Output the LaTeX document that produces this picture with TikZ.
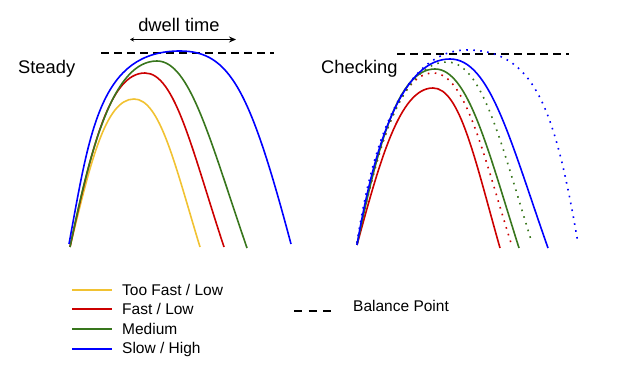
\documentclass[tikz,border=0pt]{standalone}
\usepackage{fontspec}
\setmainfont{Liberation Sans}
\usetikzlibrary{arrows.meta}
\definecolor{tooyellow}{HTML}{F1C232}
\definecolor{fastred}{HTML}{CC0000}
\definecolor{medgreen}{HTML}{38761D}
\definecolor{slowblue}{HTML}{0000FF}
\tikzset{
	curve/.style={line width=1.6pt},
	dotcurve/.style={line width=1.6pt, dash pattern=on 1.6pt off 5.4pt},
	balance/.style={line width=1.6pt, dash pattern=on 8pt off 5pt},
	title/.style={font=\fontsize{18.3}{22}\selectfont, inner sep=0pt},
	legtext/.style={font=\fontsize{15.5}{18}\selectfont, inner sep=0pt, anchor=west},
}

\begin{document}
\begin{tikzpicture}[x=1pt, y=-1pt]
		\useasboundingbox (0,0) rectangle (642,371);

		\node (steady)[title, anchor=west] at (18,69) {Steady};
		\node (checking)[title, anchor=west] at (321,69) {Checking};
		\node (dwell)[title] at (179,25) {dwell time};

		\coordinate (dwl) at (130,39.5);
		\coordinate (dwr) at (236,39.5);
		\draw [line width=0.9pt, {Stealth[length=4pt,width=4pt]}-{Stealth[length=7pt,width=6pt]}](dwl) -- (dwr);

		\coordinate (bal1a) at (101,53);
		\coordinate (bal1b) at (274,53);
		\draw [balance](bal1a) -- (bal1b);
		\coordinate (bal2a) at (397,54);
		\coordinate (bal2b) at (569,54);
		\draw [balance](bal2a) -- (bal2b);

		\draw [curve, tooyellow](70,247) .. controls (90,165) and (105,99) .. (134,99) .. controls (160,99) and (175,165) .. (200,247);
		\draw [curve, fastred](70,247) .. controls (92,145) and (110,73) .. (145,73) .. controls (175,73) and (192,150) .. (224,247);
		\draw [curve, medgreen](70,247) .. controls (92,140) and (115,61) .. (157,61) .. controls (190,61) and (210,140) .. (247,248);
		\draw [curve, slowblue](69,244) .. controls (90,130) and (100,51) .. (180,51) .. controls (230,51) and (250,90) .. (291,244);

		\draw [curve, fastred](357,245) .. controls (380,160) and (400,88) .. (433,88) .. controls (460,88) and (475,160) .. (500,248);
		\draw [dotcurve, fastred](357,243) .. controls (378,150) and (398,73) .. (433,73) .. controls (465,73) and (482,150) .. (511,243);
		\draw [curve, medgreen](357,245) .. controls (378,145) and (398,69) .. (435,69) .. controls (468,69) and (488,150) .. (519,248);
		\draw [dotcurve, medgreen](357,243) .. controls (377,140) and (405,62) .. (447,62) .. controls (482,62) and (500,140) .. (532,243);
		\draw [curve, slowblue](357,245) .. controls (376,135) and (405,59) .. (450,59) .. controls (490,59) and (510,140) .. (548,248);
		\draw [dotcurve, slowblue](357,243) .. controls (375,125) and (410,50) .. (467,50) .. controls (535,50) and (555,110) .. (578,243);

		\coordinate (ly1) at (72,290);
		\coordinate (ly2) at (112,290);
		\draw [line width=1.3pt, tooyellow](ly1) -- (ly2);
		\node (lyt)[legtext] at (122,290) {Too Fast / Low};
		\coordinate (lr1) at (72,309);
		\coordinate (lr2) at (112,309);
		\draw [line width=1.3pt, fastred](lr1) -- (lr2);
		\node (lrt)[legtext] at (122,309) {Fast / Low};
		\coordinate (lg1) at (72,329);
		\coordinate (lg2) at (112,329);
		\draw [line width=1.3pt, medgreen](lg1) -- (lg2);
		\node (lgt)[legtext] at (122,329) {Medium};
		\coordinate (lb1) at (72,349);
		\coordinate (lb2) at (112,349);
		\draw [line width=1.3pt, slowblue](lb1) -- (lb2);
		\node (lbt)[legtext] at (122,349) {Slow / High};

		\coordinate (lk1) at (294,311);
		\coordinate (lk2) at (331,311);
		\draw [line width=1.6pt, dash pattern=on 8pt off 6.5pt](lk1) -- (lk2);
		\node (lkt)[legtext] at (353,306) {Balance Point};
	\end{tikzpicture}
\end{document}
